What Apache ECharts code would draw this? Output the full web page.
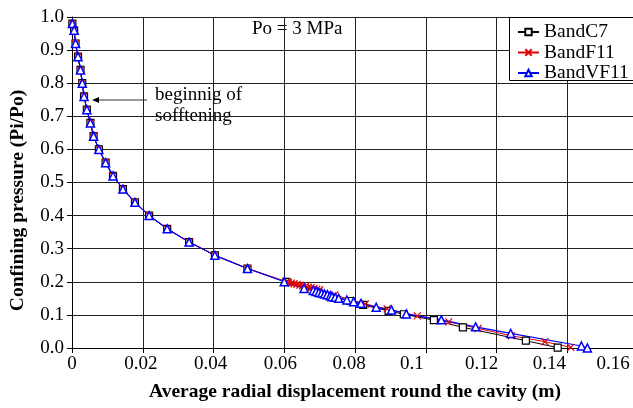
<!DOCTYPE html>
<html>
<head>
<meta charset="utf-8">
<script src="https://cdn.jsdelivr.net/npm/echarts@6/dist/echarts.min.js"></script>
<style>
html,body{margin:0;padding:0;background:#fff;}
#c{width:633px;height:408px;}
</style>
</head>
<body>
<div id="c"></div>
<script>
// Shared upper part of curve (all three models overlap)
var commonX = [0.0001,0.0006,0.0010,0.0017,0.0024,0.0029,0.0034,0.0042,0.0052,0.0061,0.0076,0.0095,0.0116,0.0144,0.0178,0.0218,0.0269,0.0331,0.0404,0.0496];
var commonY = [0.98,0.96,0.92,0.88,0.84,0.80,0.76,0.72,0.68,0.64,0.60,0.56,0.52,0.48,0.44,0.40,0.36,0.32,0.28,0.24];

var bandC7X = [0.0606,0.0787,0.0823,0.0895,0.0938,0.1023,0.1105,0.1283,0.1373];
var bandC7Y = [0.200,0.142,0.130,0.112,0.102,0.084,0.0625,0.022,0.001];

var bandF11X = [0.0606,0.0612,0.0620,0.0628,0.0636,0.0644,0.0652,0.0660,0.0668,0.0676,0.0684,0.0692,0.0700,0.0743,0.0829,0.0891,0.0976,0.1065,0.1148,0.1242,0.1337,0.1410];
var bandF11Y = [0.200,0.198,0.196,0.194,0.192,0.190,0.188,0.186,0.184,0.182,0.180,0.178,0.176,0.160,0.133,0.118,0.097,0.079,0.059,0.037,0.019,0.002];

var bandVF11X = [0.0600,0.0656,0.0682,0.0690,0.0698,0.0706,0.0714,0.0722,0.0730,0.0735,0.0744,0.0754,0.0777,0.0796,0.0817,0.0860,0.0903,0.0945,0.1044,0.1141,0.1240,0.1440,0.1457];
var bandVF11Y = [0.200,0.180,0.174,0.171,0.168,0.166,0.163,0.161,0.158,0.155,0.153,0.150,0.145,0.140,0.135,0.123,0.115,0.103,0.085,0.064,0.044,0.006,0.000];

var xTickLabels = ['0','0.02','0.04','0.06','0.08','0.1','0.12','0.14','0.16'];
var yTickLabels = ['0.0','0.1','0.2','0.3','0.4','0.5','0.6','0.7','0.8','0.9','1.0'];

function pairs(xs, ys){ var out=[]; for(var i=0;i<xs.length;i++) out.push([xs[i],ys[i]]); return out; }
function full(xs, ys){ return pairs(commonX, commonY).concat(pairs(xs, ys)); }

var serif = '"Liberation Serif","Times New Roman",serif';
// label shift (px to left) to mimic reference label placement
var shifts = [0,2,3,4,6,14,15,18,25];
var rich = {};
shifts.forEach(function(s,i){ rich['s'+i] = {fontFamily:serif,fontSize:19,color:'#000',padding:[0,2*s,0,0]}; });

var chart = echarts.init(document.getElementById('c'), null, {renderer:'canvas'});
var option = {
  animation:false,
  backgroundColor:'#fff',
  grid:{left:72,top:17,right:-5,bottom:60,containLabel:false,outerBoundsMode:'none'},
  xAxis:{
    type:'value',min:0,max:0.16,interval:0.02,
    name:'Average radial displacement round the cavity (m)',
    nameLocation:'middle',nameGap:34,
    nameTextStyle:{fontFamily:serif,fontSize:19.5,fontWeight:'bold',color:'#000'},
    axisLine:{onZero:false,lineStyle:{color:'#000',width:1}},
    axisTick:{show:true,inside:false,length:5,lineStyle:{color:'#000'}},
    axisLabel:{margin:7,color:'#000',fontFamily:serif,fontSize:19,rich:rich,hideOverlap:false,
      formatter:function(v){ var i=Math.round(v/0.02); return '{s'+i+'|'+xTickLabels[i]+'}'; }},
    splitLine:{show:true,lineStyle:{color:'#222',width:1}}
  },
  yAxis:{
    type:'value',min:0,max:1,interval:0.1,
    name:'Confining pressure (Pi/Po)',
    nameLocation:'middle',nameGap:44,
    nameTextStyle:{fontFamily:serif,fontSize:19.5,fontWeight:'bold',color:'#000',padding:[0,36,0,0]},
    axisLine:{show:true,lineStyle:{color:'#000',width:1}},
    axisTick:{show:true,inside:false,length:5,lineStyle:{color:'#000'}},
    axisLabel:{margin:8,color:'#000',fontFamily:serif,fontSize:19,
      formatter:function(v){ return yTickLabels[Math.round(v*10)]; }},
    splitLine:{show:true,lineStyle:{color:'#222',width:1}}
  },
  legend:{
    left:509,top:17,orient:'vertical',
    borderWidth:0,
    padding:[5,4,2,8],itemGap:0.5,itemWidth:21,itemHeight:8,
    textStyle:{fontFamily:serif,fontSize:19.5,lineHeight:19,color:'#000'},
    data:['BandC7','BandF11','BandVF11']
  },
  series:[
    {name:'BandC7',type:'line',data:full(bandC7X,bandC7Y),
     symbol:'rect',symbolSize:7,showAllSymbol:true,
     lineStyle:{color:'#000',width:1},
     itemStyle:{color:'#fff',borderColor:'#000',borderWidth:1.2}},
    {name:'BandF11',type:'line',data:full(bandF11X,bandF11Y),
     symbol:'path://M0,0L10,10M10,0L0,10',symbolSize:7,showAllSymbol:true,
     lineStyle:{color:'#e00000',width:1},
     itemStyle:{color:'#e00000',borderColor:'#e00000',borderWidth:1.2}},
    {name:'BandVF11',type:'line',data:full(bandVF11X,bandVF11Y),
     symbol:'triangle',symbolSize:8,showAllSymbol:true,
     lineStyle:{color:'#0000ff',width:1.2},
     itemStyle:{color:'#fff',borderColor:'#0000ff',borderWidth:1.5}}
  ],
  graphic:[
    {type:'rect',z:3,shape:{x:509.5,y:17.5,width:140,height:63},style:{fill:'#fff',stroke:'#000',lineWidth:1}},
    {type:'text',left:252,top:20,style:{text:'Po = 3 MPa',font:'19px '+serif,fill:'#000'}},
    {type:'text',left:155,top:85,style:{text:'beginnig of\nsofftening',font:'19px '+serif,fill:'#000',lineHeight:21}},
    {type:'line',shape:{x1:147,y1:100,x2:95,y2:100},style:{stroke:'#333',lineWidth:1}},
    {type:'polygon',shape:{points:[[92,100],[99,97],[99,103]]},style:{fill:'#000'}}
  ]
};
chart.setOption(option);
</script>
</body>
</html>
